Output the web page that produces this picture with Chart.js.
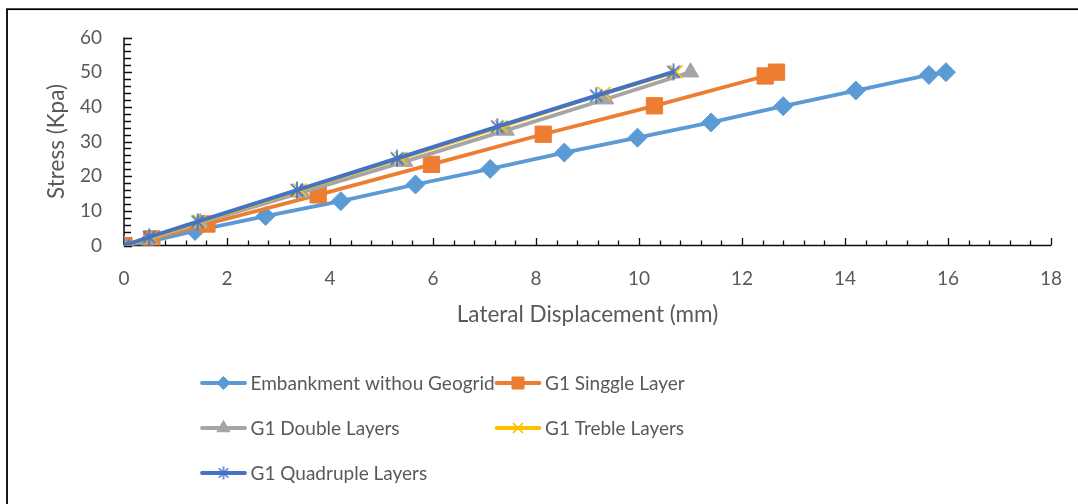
<!DOCTYPE html>
<html>
<head>
<meta charset="utf-8">
<title>Stress vs Lateral Displacement</title>
<script src="https://cdn.jsdelivr.net/npm/chart.js@4.4.1/dist/chart.umd.min.js"></script>
<style>
  html, body { margin: 0; padding: 0; background: #ffffff; }
  #wrap { position: relative; width: 1078px; height: 504px; overflow: hidden; }
  canvas { display: block; }
</style>
</head>
<body>
<div id="wrap"><canvas id="chart" width="1078" height="504"></canvas></div>
<script>
// Series names as shown in the legend
const seriesNames = [
  'Embankment withou Geogrid',
  'G1 Singgle Layer',
  'G1 Double Layers',
  'G1 Treble Layers',
  'G1 Quadruple Layers'
];

// Lateral displacement (mm) and stress (Kpa) for each test
const embankX = [0, 0.45, 1.38, 2.75, 4.21, 5.66, 7.11, 8.55, 9.97, 11.40, 12.80, 14.21, 15.63, 15.96];
const embankY = [0, 1.0, 4.2, 8.5, 12.8, 17.6, 22.1, 26.8, 31.1, 35.5, 40.2, 44.7, 49.2, 50.0];

const singleX = [0, 0.54, 1.61, 3.77, 5.97, 8.14, 10.30, 12.45, 12.67];
const singleY = [0, 1.9, 6.2, 14.6, 23.4, 32.1, 40.3, 48.9, 50.0];

const doubleX = [0, 0.50, 1.48, 3.45, 5.45, 7.42, 9.35, 11.00];
const doubleY = [0, 1.9, 6.5, 15.3, 24.2, 33.2, 42.2, 50.0];

const trebleX = [0, 0.50, 1.47, 3.42, 5.38, 7.33, 9.32, 10.72];
const trebleY = [0, 2.2, 6.9, 16.0, 25.2, 34.3, 43.9, 50.1];

const quadX = [0, 0.49, 1.43, 3.36, 5.30, 7.25, 9.17, 10.67];
const quadY = [0, 2.4, 6.9, 16.0, 25.1, 34.3, 43.2, 50.1];

// Axis ticks
const xTicks = [0, 2, 4, 6, 8, 10, 12, 14, 16, 18];
const yTicks = [0, 10, 20, 30, 40, 50, 60];

const textColor = '#595959';
const fontFamily = 'Lato, "Open Sans", sans-serif';

function toPoints(xs, ys) {
  return xs.map((x, i) => ({ x: x, y: ys[i] }));
}

// Asterisk marker: vertical stroke plus two diagonals
function asteriskMarker(size, color, lw) {
  const c = document.createElement('canvas');
  c.width = size; c.height = size;
  const g = c.getContext('2d');
  const m = size / 2, r = size / 2 - 0.5;
  const d = r * 0.72;
  g.strokeStyle = color;
  g.lineWidth = lw;
  g.beginPath();
  g.moveTo(m, m - r); g.lineTo(m, m + r);
  g.moveTo(m - d, m - d); g.lineTo(m + d, m + d);
  g.moveTo(m - d, m + d); g.lineTo(m + d, m - d);
  g.stroke();
  return c;
}
const starBig = asteriskMarker(18, '#4472C4', 1.7);
const starSmall = asteriskMarker(14, '#4472C4', 1.5);

function series(label, xs, ys, color, style, radius, order, extra) {
  return Object.assign({
    label: label,
    data: toPoints(xs, ys),
    showLine: true,
    borderColor: color,
    backgroundColor: color,
    borderWidth: 3.8,
    pointStyle: style,
    pointRadius: radius,
    pointHoverRadius: radius,
    pointBackgroundColor: color,
    pointBorderColor: color,
    pointBorderWidth: 1,
    order: order,
    tension: 0
  }, extra || {});
}

const datasets = [
  series(seriesNames[0], embankX, embankY, '#5B9BD5', 'rectRot', 9.5, 5),
  series(seriesNames[1], singleX, singleY, '#ED7D31', 'rect', 11.5, 4),
  series(seriesNames[2], doubleX, doubleY, '#A5A5A5', 'triangle', 9.5, 3),
  series(seriesNames[3], trebleX, trebleY, '#FFC000', 'crossRot', 9, 2, { pointBorderWidth: 1.7 }),
  series(seriesNames[4], quadX, quadY, '#4472C4', starBig, 9, 1, { borderWidth: 4 })
];

// Legend layout: two columns, three rows
const legendCells = [
  { col: 0, row: 0 }, { col: 1, row: 0 },
  { col: 0, row: 1 }, { col: 1, row: 1 },
  { col: 0, row: 2 }
];
const legendMarkers = ['rectRot', 'rect', 'triangle', 'crossRot', starSmall];
const legendRadius = [6.5, 8.5, 7.5, 7, 7];

// Axis lines with major and minor tick marks drawn inside the plot
const axisPlugin = {
  id: 'excelAxes',
  beforeDatasetsDraw(chart) {
    const { ctx } = chart;
    const xs = chart.scales.x, ys = chart.scales.y;
    const x0 = xs.getPixelForValue(0), x1 = xs.getPixelForValue(18);
    const y0 = ys.getPixelForValue(0), y1 = ys.getPixelForValue(60);
    ctx.save();
    ctx.strokeStyle = '#0d0d0d';
    ctx.lineWidth = 1.5;
    ctx.beginPath();
    ctx.moveTo(x0, y0); ctx.lineTo(x1, y0);
    ctx.moveTo(x0, y0); ctx.lineTo(x0, y1);
    ctx.stroke();
    ctx.lineWidth = 1.3;
    ctx.beginPath();
    for (let i = 0; i <= 45; i++) {
      const v = i * 0.4;
      const px = Math.round(xs.getPixelForValue(v)) + 0.5;
      const len = (i % 5 === 0) ? 7.5 : 5;
      ctx.moveTo(px, y0); ctx.lineTo(px, y0 - len);
    }
    for (let i = 0; i <= 30; i++) {
      const v = i * 2;
      const py = Math.round(ys.getPixelForValue(v)) + 0.5;
      const len = (i % 5 === 0) ? 8 : 7;
      ctx.moveTo(x0, py); ctx.lineTo(x0 + len, py);
    }
    ctx.stroke();
    ctx.restore();
  },
  afterDraw(chart) {
    const { ctx } = chart;
    // outer frame
    ctx.save();
    ctx.strokeStyle = '#000000';
    ctx.lineWidth = 1.8;
    ctx.strokeRect(7, 9.2, 1200, 700);
    ctx.restore();

    // legend
    const colX = [200.5, 495];
    const rowY = [383, 428, 473];
    ctx.save();
    ctx.font = '19px ' + fontFamily;
    ctx.textBaseline = 'middle';
    ctx.textAlign = 'left';
    chart.data.datasets.forEach((ds, i) => {
      const cell = legendCells[i];
      const lx = colX[cell.col], ly = rowY[cell.row];
      ctx.strokeStyle = ds.borderColor;
      ctx.lineWidth = 3.8;
      ctx.lineCap = 'round';
      ctx.beginPath();
      ctx.moveTo(lx + 1.5, ly); ctx.lineTo(lx + 44.5, ly);
      ctx.stroke();
      ctx.lineCap = 'butt';
      ctx.fillStyle = ds.pointBackgroundColor;
      ctx.strokeStyle = ds.pointBorderColor;
      ctx.lineWidth = ds.pointBorderWidth;
      Chart.helpers.drawPoint(ctx, {
        pointStyle: legendMarkers[i],
        radius: legendRadius[i],
        rotation: 0,
        borderWidth: ds.pointBorderWidth
      }, lx + 23, ly);
      ctx.fillStyle = textColor;
      ctx.fillText(ds.label, lx + 50, ly + 1);
    });
    ctx.restore();
  }
};

new Chart(document.getElementById('chart'), {
  type: 'scatter',
  data: { datasets: datasets },
  options: {
    responsive: false,
    animation: false,
    devicePixelRatio: 1,
    layout: { padding: { left: 0, top: 37.5, right: 27, bottom: 168.5 } },
    plugins: {
      legend: { display: false },
      tooltip: { enabled: false }
    },
    scales: {
      x: {
        type: 'linear',
        min: 0, max: 18,
        afterBuildTicks: (scale) => { scale.ticks = xTicks.map(v => ({ value: v })); },
        afterFit: (scale) => {
          scale.height = 90;
          // label overhang only, without the vertical label gap
          scale.paddingLeft = 6;
          scale.paddingRight = 12;
        },
        grid: { display: false, drawTicks: false },
        border: { display: false },
        ticks: {
          padding: 22,
          maxRotation: 0,
          color: textColor,
          font: { family: fontFamily, size: 19 }
        },
        title: {
          display: true,
          text: 'Lateral Displacement (mm)',
          color: textColor,
          font: { family: fontFamily, size: 22.5 },
          padding: { top: 0, bottom: 7 }
        }
      },
      y: {
        type: 'linear',
        min: 0, max: 60,
        afterBuildTicks: (scale) => { scale.ticks = yTicks.map(v => ({ value: v })); },
        afterFit: (scale) => { scale.width = 124; },
        grid: { display: false, drawTicks: false },
        border: { display: false },
        ticks: {
          padding: 22,
          color: textColor,
          font: { family: fontFamily, size: 19 }
        },
        title: {
          display: true,
          text: 'Stress (Kpa)',
          color: textColor,
          font: { family: fontFamily, size: 22.5 },
          padding: { top: 43.5, bottom: 0 }
        }
      }
    }
  },
  plugins: [axisPlugin]
});
</script>
</body>
</html>
